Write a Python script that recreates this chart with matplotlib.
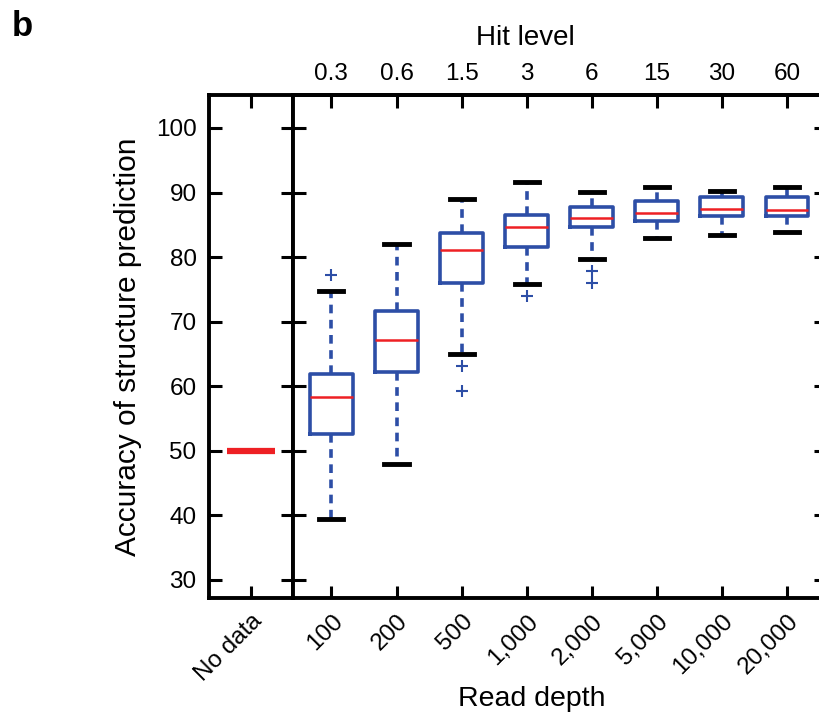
import matplotlib
matplotlib.use("Agg")
import matplotlib.pyplot as plt

plt.rcParams['font.family'] = ['Liberation Sans', 'DejaVu Sans']

read_depth = ["100", "200", "500", "1,000", "2,000", "5,000", "10,000", "20,000"]
hit_level = ["0.3", "0.6", "1.5", "3", "6", "15", "30", "60"]

# box stats
whislo = [39.5, 48.0, 65.0, 75.8, 79.7, 82.9, 83.4, 83.9]
q1 = [52.6, 62.2, 76.0, 81.6, 84.6, 85.6, 86.3, 86.3]
med = [58.3, 67.1, 81.1, 84.7, 86.1, 86.9, 87.5, 87.3]
q3 = [61.9, 71.7, 83.8, 86.5, 87.8, 88.7, 89.3, 89.3]
whishi = [74.7, 82.0, 89.0, 91.6, 90.1, 90.9, 90.2, 90.9]
fliers = [[77.3], [], [63.2, 59.3], [74.0], [77.9, 76.0], [], [], []]

no_data_value = 50

blue = '#2d4ea6'
red = '#ee2024'

fig = plt.figure(figsize=(8.19, 7.15), dpi=100)
ax0 = fig.add_axes([0.2552, 0.1636, 0.1026, 0.7035])
ax1 = fig.add_axes([0.3578, 0.1636, 0.6508, 0.7035])

ylim = (27.2, 105.1)
yticks = list(range(30, 101, 10))
tick_kw = dict(direction='in', length=9, width=2.2, labelsize=17.5)

# no-data panel
ax0.hlines(no_data_value, 0.43, 1.57, color=red, lw=4.5)
ax0.set_xlim(0, 2)
ax0.set_ylim(*ylim)
ax0.set_yticks(yticks)
ax0.set_xticks([1])
ax0.set_xticklabels(["No data"], rotation=45, ha='right', rotation_mode='anchor',
                    fontsize=18.5)
ax0.tick_params(axis='both', top=True, right=True, pad=9, **tick_kw)
ax0.set_ylabel("Accuracy of structure prediction", fontsize=21.5, labelpad=10)

# box plots
stats = []
for i in range(len(read_depth)):
    stats.append(dict(whislo=whislo[i], q1=q1[i], med=med[i], q3=q3[i],
                      whishi=whishi[i], fliers=fliers[i]))
pos = list(range(1, len(read_depth) + 1))
ax1.bxp(stats, positions=pos, widths=0.66, capwidths=0.37,
        boxprops=dict(color=blue, lw=2.6),
        whiskerprops=dict(color=blue, lw=2.6, linestyle=(0, (2.4, 1.8))),
        capprops=dict(color='black', lw=3.5),
        medianprops=dict(color=red, lw=1.8),
        flierprops=dict(marker='+', markeredgecolor=blue, markersize=9, markeredgewidth=1.5))
ax1.set_xlim(0.41, 8.6)
ax1.set_ylim(*ylim)
ax1.set_yticks(yticks)
ax1.set_yticklabels([])
ax1.set_xticks(pos)
ax1.set_xticklabels(read_depth, rotation=45, ha='right', rotation_mode='anchor')
ax1.tick_params(axis='both', right=True, left=True, pad=9, **tick_kw)
ax1.set_xlabel("Read depth", fontsize=20.5)
ax1.xaxis.set_label_coords(0.447, -0.175)

top = ax1.secondary_xaxis('top')
top.set_xticks(pos)
top.set_xticklabels(hit_level)
top.tick_params(pad=7, **tick_kw)
top.spines['top'].set_linewidth(2.8)
fig.text(0.641, 0.947, "Hit level", fontsize=20, ha='center', va='center')

for a in (ax0, ax1):
    for s in a.spines.values():
        s.set_linewidth(2.8)

fig.text(0.014, 0.95, "b", fontsize=25, fontweight='bold')

fig.savefig("out.png", dpi=100)
